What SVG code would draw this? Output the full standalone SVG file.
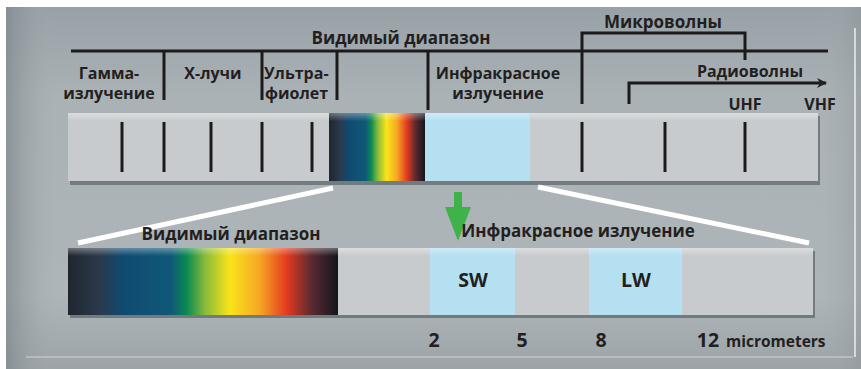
<svg xmlns="http://www.w3.org/2000/svg" width="861" height="369" viewBox="0 0 861 369">
<defs>
<linearGradient id="panelV" x1="0" y1="0" x2="0" y2="1">
<stop offset="0" stop-color="#98a1a6"/>
<stop offset="0.25" stop-color="#aab2b6"/>
<stop offset="0.8" stop-color="#aeb5b9"/>
<stop offset="1" stop-color="#9ca4a8"/>
</linearGradient>
<linearGradient id="panelH" x1="0" y1="0" x2="1" y2="0">
<stop offset="0" stop-color="#7d868b" stop-opacity="0.7"/>
<stop offset="0.06" stop-color="#a7aeb2" stop-opacity="0"/>
<stop offset="0.95" stop-color="#a7aeb2" stop-opacity="0"/>
<stop offset="1" stop-color="#8c9499" stop-opacity="0.5"/>
</linearGradient>
<linearGradient id="spec" x1="0" y1="0" x2="1" y2="0">
<stop offset="0" stop-color="#1f2630"/>
<stop offset="0.12" stop-color="#2b3a4c"/>
<stop offset="0.2" stop-color="#0f4a70"/>
<stop offset="0.38" stop-color="#0f5878"/>
<stop offset="0.44" stop-color="#0a8a52"/>
<stop offset="0.51" stop-color="#8cbc3a"/>
<stop offset="0.6" stop-color="#fae41a"/>
<stop offset="0.71" stop-color="#f6a624"/>
<stop offset="0.81" stop-color="#e33a20"/>
<stop offset="0.9" stop-color="#5c2a30"/>
<stop offset="1" stop-color="#12161e"/>
</linearGradient>
<linearGradient id="barSheen" x1="0" y1="0" x2="0" y2="1">
<stop offset="0" stop-color="#ffffff" stop-opacity="0.35"/>
<stop offset="0.12" stop-color="#ffffff" stop-opacity="0"/>
<stop offset="1" stop-color="#ffffff" stop-opacity="0"/>
</linearGradient>
<marker id="arr" markerWidth="10" markerHeight="10" refX="9" refY="5" orient="auto" markerUnits="userSpaceOnUse" viewBox="0 0 10 10">
<path d="M0,0 L10,5 L0,10 L3,5 Z" fill="#231f20"/>
</marker>
<style>
text{font-family:"Open Sans","Noto Sans","Liberation Sans",sans-serif;font-weight:700;fill:#231f20}
.l{font-size:17px}
.m{font-size:16px}
.big{font-size:19.5px}
.sm{font-size:15.5px}
.tick{stroke:#1c1a1b;stroke-width:3;fill:none}
.ln{stroke:#1c1a1b;stroke-width:3;fill:none}
.bar{fill:#c8cbcd}
.ir{fill:#b4e0f2}
.shadow{fill:#5f686d;opacity:0.75}
.wl{stroke:#ffffff;stroke-width:5;fill:none}
</style>
</defs>

<rect x="0" y="0" width="861" height="369" fill="#ffffff"/>
<g id="panel">
<rect x="6" y="7" width="855" height="362" fill="url(#panelV)"/>
<rect x="6" y="7" width="855" height="362" fill="url(#panelH)"/>
<line x1="26" y1="357" x2="853" y2="357" stroke="#c9cdcf" stroke-width="1.5" opacity="0.8"/>
<line x1="855" y1="28" x2="855" y2="357" stroke="#dde1e3" stroke-width="2" opacity="0.9"/>
</g>

<g id="top-bar">
<rect class="shadow" x="70" y="116" width="750" height="69"/>
<rect class="bar" x="68" y="113" width="750" height="68"/>
<rect class="ir" x="425" y="113" width="105" height="68"/>
<rect x="329" y="113" width="96" height="68" fill="url(#spec)"/>
<rect x="68" y="113" width="750" height="68" fill="url(#barSheen)"/>
<line class="tick" x1="122" y1="122" x2="122" y2="172"/>
<line class="tick" x1="164" y1="122" x2="164" y2="172"/>
<line class="tick" x1="211" y1="122" x2="211" y2="172"/>
<line class="tick" x1="262" y1="122" x2="262" y2="172"/>
<line class="tick" x1="312" y1="122" x2="312" y2="172"/>
<line class="tick" x1="582" y1="122" x2="582" y2="172"/>
<line class="tick" x1="665" y1="122" x2="665" y2="172"/>
<line class="tick" x1="745" y1="122" x2="745" y2="172"/>
</g>

<g id="scale-lines">
<line class="ln" x1="71" y1="51" x2="828" y2="51"/>
<line class="ln" x1="164" y1="51" x2="164" y2="100"/>
<line class="ln" x1="262" y1="51" x2="262" y2="100"/>
<line class="ln" x1="337" y1="51" x2="337" y2="100"/>
<line class="ln" x1="428" y1="51" x2="428" y2="110"/>
<path class="ln" d="M582,104 V33 H745 V60"/>
<path class="ln" d="M629,104 V83 H826" marker-end="url(#arr)"/>
</g>

<g id="labels-top">
<text class="l" x="401" y="44" text-anchor="middle">Видимый диапазон</text>
<text class="l" x="663" y="28" text-anchor="middle">Микроволны</text>
<text class="m" x="109" y="79" text-anchor="middle">Гамма-</text>
<text class="m" x="109" y="99" text-anchor="middle">излучение</text>
<text class="m" x="213" y="79" text-anchor="middle">Х-лучи</text>
<text class="m" x="264" y="79">Ультра-</text>
<text class="m" x="265" y="99">фиолет</text>
<text class="m" x="498" y="79" text-anchor="middle">Инфракрасное</text>
<text class="m" x="498" y="99" text-anchor="middle">излучение</text>
<text class="m" x="750" y="77" text-anchor="middle">Радиоволны</text>
<text class="m" x="745" y="110" text-anchor="middle">UHF</text>
<text class="m" x="820" y="110" text-anchor="middle">VHF</text>
</g>

<g id="connectors">
<line class="wl" x1="333" y1="188" x2="78" y2="243"/>
<line class="wl" x1="538" y1="187" x2="809" y2="243"/>
<path d="M454,192 H462 V207 H471 L458,241 L445,207 H454 Z" fill="#3fb24a"/>
</g>

<g id="bottom-bar">
<rect class="shadow" x="70" y="251" width="745" height="67"/>
<rect class="bar" x="68" y="248" width="745" height="67"/>
<rect class="ir" x="430" y="248" width="85" height="67"/>
<rect class="ir" x="589" y="248" width="93" height="67"/>
<rect x="68" y="248" width="270" height="67" fill="url(#spec)"/>
<rect x="68" y="248" width="745" height="67" fill="url(#barSheen)"/>
</g>

<g id="labels-bottom">
<text class="l" x="231" y="240" text-anchor="middle">Видимый диапазон</text>
<text class="l" x="578" y="237" text-anchor="middle">Инфракрасное излучение</text>
<text class="big" x="473" y="287" text-anchor="middle">SW</text>
<text class="big" x="636" y="287" text-anchor="middle">LW</text>
<text class="big" x="434" y="347" text-anchor="middle">2</text>
<text class="big" x="522" y="347" text-anchor="middle">5</text>
<text class="big" x="601" y="347" text-anchor="middle">8</text>
<text class="big" x="708" y="347" text-anchor="middle">12</text>
<text class="sm" x="726" y="347">micrometers</text>
</g>
</svg>
